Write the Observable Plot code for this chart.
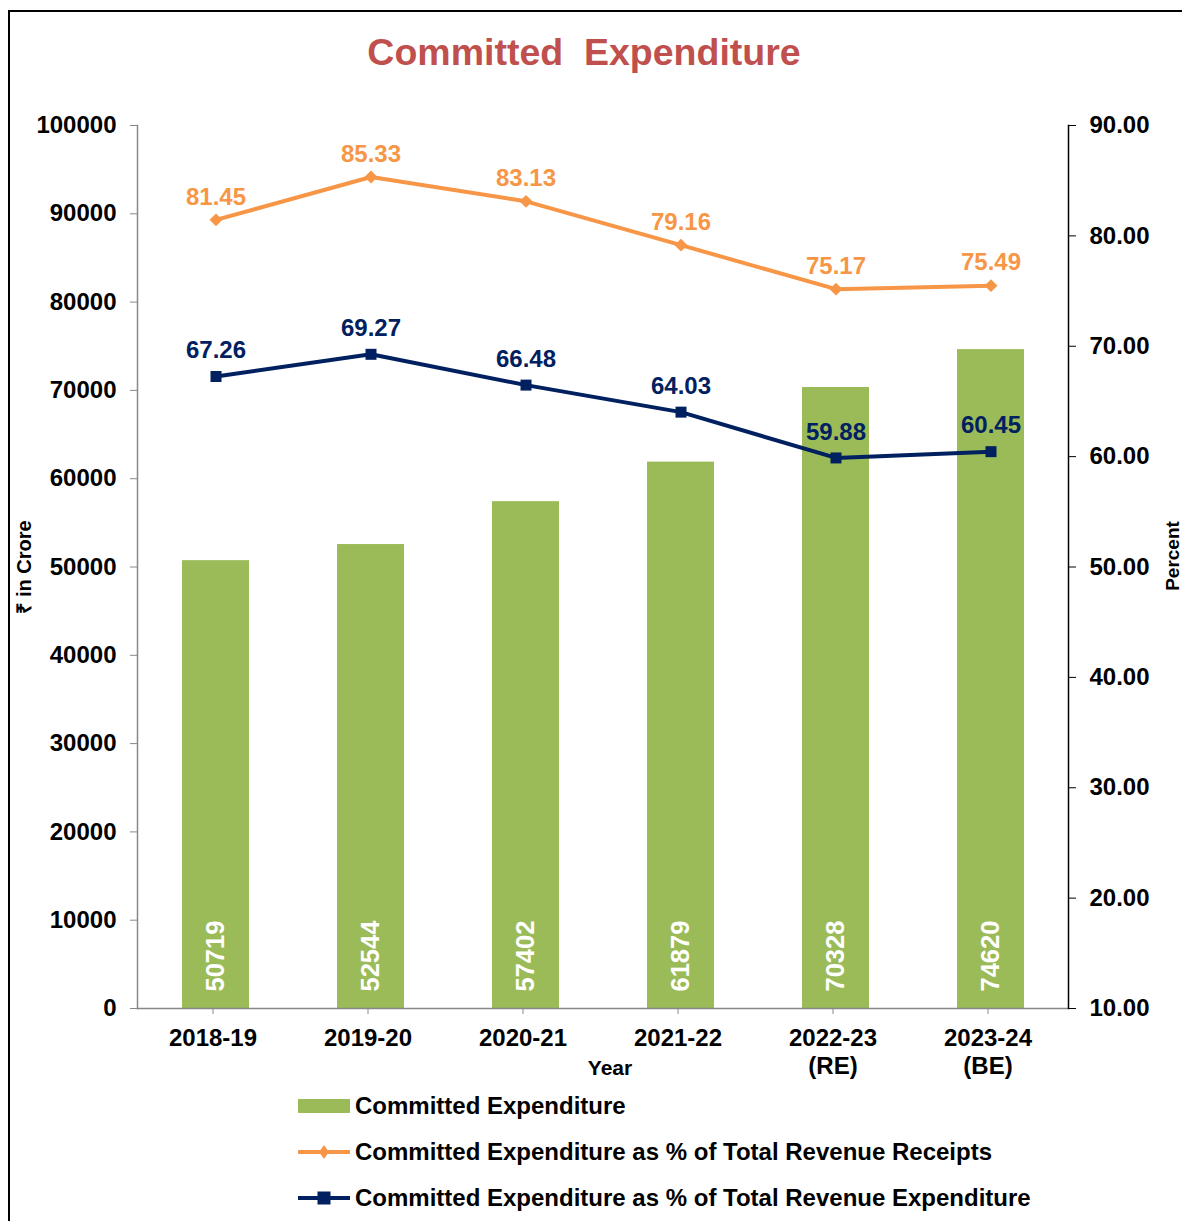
<!DOCTYPE html>
<html>
<head>
<meta charset="utf-8">
<script src="https://cdn.jsdelivr.net/npm/d3@7"></script>
<script src="https://cdn.jsdelivr.net/npm/@observablehq/plot@0.6"></script>
<style>
  body { margin: 0; background: #fff; font-family: "Liberation Sans", Arial, sans-serif; }
  #frame { position: absolute; left: 8px; top: 10px; width: 1200px; height: 1240px; border: 2px solid #000; box-sizing: border-box; }
  #title { position: absolute; left: 0; top: 33px; width: 1168px; text-align: center; font-size: 37.5px; line-height: 38px; font-weight: bold; color: #C0504D; white-space: pre; }
  #chart { position: absolute; left: 0; top: 0; }
  .lg { position: absolute; left: 297px; height: 30px; display: flex; align-items: center; font-size: 24px; font-weight: bold; color: #000; white-space: nowrap; }
  .lg svg { margin-right: 4px; }
</style>
</head>
<body>
<div id="frame"></div>
<div id="chart"></div>
<div id="title">Committed  Expenditure</div>
<div id="legend"></div>
<script>
// ---- data ----
const years = ["2018-19", "2019-20", "2020-21", "2021-22", "2022-23\n(RE)", "2023-24\n(BE)"];
const committed = [50719, 52544, 57402, 61879, 70328, 74620];
const pctReceipts = [81.45, 85.33, 83.13, 79.16, 75.17, 75.49];
const pctExpenditure = [67.26, 69.27, 66.48, 64.03, 59.88, 60.45];
const leftTicks = [0, 10000, 20000, 30000, 40000, 50000, 60000, 70000, 80000, 90000, 100000];
const rightTicks = [10, 20, 30, 40, 50, 60, 70, 80, 90];
const seriesNames = [
  "Committed Expenditure",
  "Committed Expenditure as % of Total Revenue Receipts",
  "Committed Expenditure as % of Total Revenue Expenditure"
];

const GREEN = "#9BBB59", ORANGE = "#F79646", NAVY = "#002060";
const FONT = "'Liberation Sans', Arial, sans-serif";

// right axis (10..90 %) mapped onto the left axis domain (0..100000)
const pctToY = p => (p - 10) * (100000 / 80);
const yToPct = v => v * 80 / 100000 + 10;

const rows = years.map((year, i) => ({
  year, value: committed[i], rr: pctReceipts[i], re: pctExpenditure[i]
}));

const chart = Plot.plot({
  width: 1182,
  height: 1090,
  marginLeft: 137,
  marginRight: 114,
  marginTop: 125,
  marginBottom: 82,
  style: { fontFamily: FONT, fontSize: "24px", fontWeight: "bold", color: "#000", background: "transparent", overflow: "visible" },
  x: { domain: years, paddingInner: 0.568, paddingOuter: 0.284, label: null },
  y: { domain: [0, 100000], label: null },
  marks: [
    Plot.barY(rows, { x: "year", y: "value", fill: GREEN }),
    Plot.ruleY([0], { stroke: "#888", strokeWidth: 1.5 }),
    Plot.frame({ anchor: "left", stroke: "#888", strokeWidth: 1.5 }),
    Plot.frame({ anchor: "right", stroke: "#000", strokeWidth: 1.5 }),
    Plot.axisY(leftTicks, {
      anchor: "left", tickSize: 7, tickPadding: 14, stroke: "#888", fill: "#000",
      fontSize: 24, fontWeight: "bold", label: null, tickFormat: d => String(d)
    }),
    Plot.axisY(rightTicks.map(pctToY), {
      anchor: "right", tickSize: 7, tickPadding: 14, stroke: "#000", fill: "#000",
      fontSize: 24, fontWeight: "bold", label: null, tickFormat: v => yToPct(v).toFixed(2)
    }),
    Plot.axisX({
      tickSize: 6, tickPadding: 12, stroke: "#888", fill: "#000",
      fontSize: 24, fontWeight: "bold", label: null, lineHeight: 1.15, tickFormat: d => d,
      dx: -3
    }),
    Plot.text(rows, {
      x: "year", y: 0, text: d => String(d.value), rotate: -90, textAnchor: "start",
      dy: -17, fill: "#fff", fontSize: 25.5, fontWeight: "bold"
    }),
    Plot.line(rows, { x: "year", y: d => pctToY(d.rr), stroke: ORANGE, strokeWidth: 4 }),
    Plot.dot(rows, { x: "year", y: d => pctToY(d.rr), symbol: "diamond2", r: 5.8, fill: ORANGE, stroke: null }),
    Plot.line(rows, { x: "year", y: d => pctToY(d.re), stroke: NAVY, strokeWidth: 4 }),
    Plot.dot(rows, { x: "year", y: d => pctToY(d.re), symbol: "square2", r: 7, fill: NAVY, stroke: null }),
    Plot.text(rows, {
      x: "year", y: d => pctToY(d.rr), text: d => d.rr.toFixed(2), dy: -23,
      fill: ORANGE, fontSize: 24, fontWeight: "bold"
    }),
    Plot.text(rows, {
      x: "year", y: d => pctToY(d.re), text: d => d.re.toFixed(2), dy: -26,
      fill: NAVY, fontSize: 24, fontWeight: "bold"
    }),
    Plot.text(["₹ in Crore"], {
      frameAnchor: "left", text: d => d, rotate: -90, textAnchor: "middle", dx: -113,
      fill: "#000", fontSize: 20, fontWeight: "bold"
    }),
    Plot.text(["Percent"], {
      frameAnchor: "right", text: d => d, rotate: -90, textAnchor: "middle", dx: 104, dy: -11,
      fill: "#000", fontSize: 19, fontWeight: "bold"
    }),
    Plot.text(["Year"], {
      frameAnchor: "bottom", text: d => d, dx: 7, dy: 66,
      fill: "#000", fontSize: 21, fontWeight: "bold"
    })
  ]
});
document.getElementById("chart").appendChild(chart);

// ---- legend ----
const legend = document.getElementById("legend");
const swatches = [
  `<svg width="54" height="20"><rect x="1" y="3" width="52" height="14" fill="${GREEN}"/></svg>`,
  `<svg width="54" height="20"><line x1="1" y1="10" x2="53" y2="10" stroke="${ORANGE}" stroke-width="4"/><path d="M27 3 L32 10 L27 17 L22 10 Z" fill="${ORANGE}"/></svg>`,
  `<svg width="54" height="20"><line x1="1" y1="10" x2="53" y2="10" stroke="${NAVY}" stroke-width="4"/><rect x="20.5" y="3.5" width="13" height="13" fill="${NAVY}"/></svg>`
];
seriesNames.forEach((name, i) => {
  const row = document.createElement("div");
  row.className = "lg";
  row.style.top = (1091 + 46 * i) + "px";
  row.innerHTML = swatches[i] + `<span>${name}</span>`;
  legend.appendChild(row);
});
</script>
</body>
</html>
